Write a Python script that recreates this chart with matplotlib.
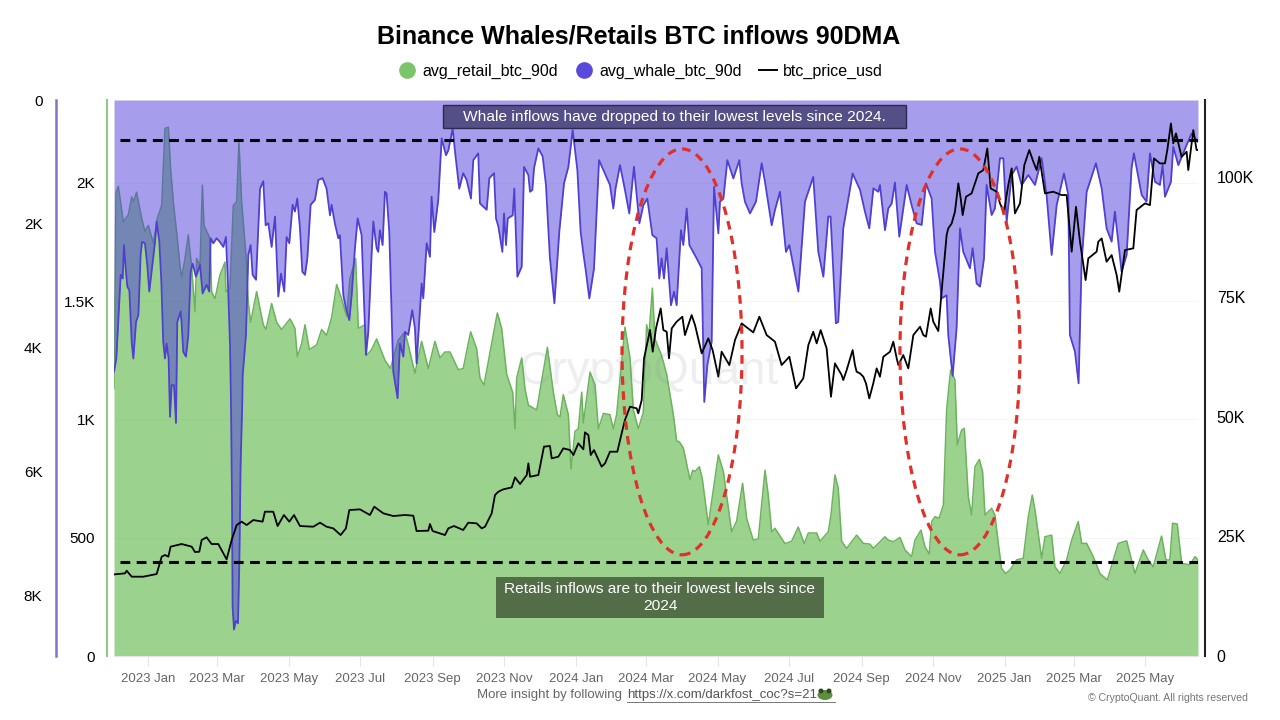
import matplotlib
matplotlib.use('Agg')
import matplotlib.pyplot as plt
import matplotlib.dates as mdates
from matplotlib.lines import Line2D
from matplotlib.patches import Ellipse, Rectangle
import numpy as np
import pandas as pd

plt.rcParams['font.family'] = ['Liberation Sans', 'DejaVu Sans']

# values, days counted from start_date
start_date = pd.Timestamp('2022-12-03')
total_days = 925

whale_days = [0, 2, 5.7, 7.4, 8.5, 10.2, 11.4, 13.1, 15.1, 16.5, 18.8, 20.8, 22.7, 23.9, 26.4, 28.4, 30.1, 32.4, 35, 36.4,
              38.7, 40.4, 42, 43.5, 44.9, 46.6, 47.8, 49.2, 51.2, 52.9, 54, 56.9, 57.7, 59.1, 61.4, 63.4, 65.4, 67.1, 69.9, 73.4,
              75.6, 79, 81.3, 82.5, 84.7, 87.6, 90.4, 93.3, 95.5, 97.5, 99, 99.8, 100.7, 101.2, 102.4, 104, 105.8, 107, 108, 109.5,
              109.8, 112.6, 114.6, 116.6, 118.3, 121.2, 123.1, 124.6, 127.4, 129.4, 131.7, 134.5, 137.4, 140.2, 142.5, 145.3, 147.3, 149.6, 152.4, 154.4,
              156.4, 158.7, 160.7, 163, 165, 167.8, 171.5, 174.3, 178, 181.4, 184.3, 185.7, 188.5, 191.4, 192.8, 195.7, 197.9, 200.8, 202.8, 205.6,
              207.9, 211.3, 215, 217, 219.8, 221.3, 224.1, 225.5, 226.9, 229.2, 231.2, 232.6, 234.9, 238.3, 242, 244, 246.9, 248.3, 251.1, 254.5,
              256.8, 258.2, 262.5, 263.9, 266.8, 269.6, 271, 273.3, 276.7, 279.6, 283.3, 285.3, 289, 291, 294.6, 298, 300.9, 304.6, 306.6, 310.8,
              312.3, 318, 320.3, 324.3, 326, 328, 331.4, 332.8, 334.5, 336, 340.2, 341.6, 344.2, 347.9, 349.9, 353.6, 355, 357, 358.4, 362.1,
              365.8, 368.6, 372, 375.8, 380, 384, 387.7, 391.4, 395.4, 398.2, 400.5, 402.5, 405.6, 409.6, 413.9, 417.6, 423.2, 426.1, 428, 431.8,
              436, 439.7, 443.7, 448.3, 451.7, 455.1, 459.4, 463, 465.3, 467.3, 469.3, 471.6, 475.3, 477.9, 480.1, 483.8, 485.8, 488.7, 491, 497.2,
              501.5, 503.7, 506.3, 510, 512, 515.7, 517.1, 520, 523.4, 528.5, 533.6, 535.6, 538.4, 542.7, 547.8, 552.7, 555.5, 561.2, 564, 568.3,
              573.4, 576.3, 584, 589.6, 596.7, 601, 605.3, 609.5, 611.5, 616, 618, 622.3, 625.2, 630.3, 636.6, 640.8, 644.5, 648, 652.2, 653.6,
              657.9, 660.7, 663.6, 666.4, 670.1, 673.5, 676.4, 680.6, 684.9, 689.2, 692.9, 697.7, 700.6, 704.8, 706.2, 710.5, 711.9, 715.6, 719, 721.9,
              724.7, 730.4, 732.7, 736.1, 739, 742.4, 744.6, 748.9, 751.7, 756, 758.9, 761.7, 766, 770.2, 774.5, 780.2, 785.9, 791.6, 795.8, 800.1,
              804.4, 810.6, 814.3, 815.7, 820, 823.1, 825.7, 830, 837.9, 842.8, 847, 851.3, 854.1, 859.8, 864.1, 868.3, 870.3, 876.9, 881.1, 884,
              888.3, 892.5, 894.8, 896.8, 901.9, 903.9, 908.2, 915.3, 919.5, 925]
whale_btc = [4380, 4170, 2820, 2880, 2340, 2770, 3010, 3070, 3900, 4170, 3580, 3470, 2500, 2290, 2310, 2660, 3090, 2720, 2290, 1960,
             2290, 2930, 3900, 4170, 3930, 4170, 5110, 4600, 4600, 5210, 3580, 3410, 3600, 4060, 4140, 3790, 2770, 2640, 2850, 2660,
             3120, 2980, 3090, 2230, 2310, 2230, 2290, 2370, 2210, 3090, 3950, 4840, 6450, 8170, 8540, 8400, 8440, 7420, 5915, 4840,
             4440, 3790, 2500, 2340, 2820, 2900, 2070, 1430, 1310, 2020, 1990, 2370, 1880, 3170, 2800, 3090, 2210, 2310, 1690, 1800,
             1590, 2070, 2770, 2820, 2550, 1690, 1610, 1290, 1260, 1430, 1860, 1690, 1990, 2230, 2180, 3150, 3360, 3550, 3150, 2390,
             1910, 2180, 4110, 3740, 2500, 1960, 2390, 2450, 2100, 2340, 1480, 1510, 2130, 4380, 4810, 3930, 4140, 3740, 3790, 3390,
             3680, 4250, 2960, 3200, 2310, 2530, 1560, 2130, 1610, 620, 890, 810, 460, 830, 1430, 1180, 1290, 1590, 970, 860,
             1670, 1770, 1260, 1180, 1910, 2040, 2450, 1830, 2340, 1910, 1860, 1430, 2850, 2690, 1080, 1210, 1480, 1450, 1100, 780,
             910, 1370, 2550, 3280, 2120, 1345, 1080, 485, 1130, 2125, 2475, 2740, 3200, 2716, 970, 1130, 1370, 1750, 1425, 1050,
             1450, 1830, 1075, 1990, 1695, 1590, 2180, 2230, 2880, 2555, 2880, 2390, 3310, 3090, 3310, 2100, 2340, 1750, 2340, 2555,
             2715, 4870, 4275, 3900, 1400, 2150, 1640, 1590, 970, 1265, 970, 1345, 1640, 1830, 1640, 1020, 1320, 2020, 1775, 1480,
             2450, 2340, 3090, 1640, 1240, 2450, 2850, 1880, 1880, 3600, 3580, 2070, 1750, 1185, 1450, 1800, 2070, 1425, 1480, 1370,
             2100, 1750, 1670, 1330, 2205, 1750, 1370, 1695, 1990, 2015, 1345, 1590, 2450, 2930, 3200, 3150, 3790, 4450, 3680, 2070,
             2450, 2715, 2390, 2960, 3010, 2555, 1370, 1855, 1750, 940, 940, 1965, 1210, 1075, 1370, 1210, 1370, 940, 1530, 2500,
             1695, 1185, 1530, 3790, 4060, 4570, 2610, 1480, 1020, 1425, 2070, 2285, 1800, 2770, 2500, 1100, 860, 1530, 1640, 860,
             1320, 1370, 1050, 1560, 1320, 755, 1050, 725, 540, 675]

retail_days = [0, 1.7, 3.7, 8, 12.2, 15.1, 16.5, 19.3, 23.6, 26.4, 29.3, 33.6, 37, 40.7, 43.5, 46.4, 48.3, 50.6, 54, 56.3,
               57.7, 60.6, 63.4, 66.3, 69.1, 70.5, 73.4, 75.4, 76.8, 81.9, 83.3, 86.2, 90.4, 94.7, 95.5, 99, 101.8, 104.7, 106.6, 108.9,
               112.6, 114.6, 116.6, 121.7, 127.4, 129.7, 134.5, 138.8, 143, 150.2, 154.4, 156.4, 160.1, 163, 166.7, 172.9, 177.2, 181.4, 185.7, 190,
               194.2, 198.5, 201.3, 206.2, 208.5, 214.2, 215.6, 219.8, 224.1, 231.2, 236, 238.3, 242.6, 248.3, 251.1, 256.8, 262.5, 268.2, 273.9, 278.1,
               282.4, 286.7, 293.8, 298, 304.3, 309.4, 312.3, 315.7, 320.9, 327.1, 330.8, 335.1, 340.2, 342.2, 343.6, 347.9, 350.7, 353.6, 360.7, 369.8,
               374.9, 378.3, 380.6, 383.4, 387.7, 390, 393.4, 396.2, 399.1, 400.5, 406.2, 410.5, 413.3, 417.6, 423.2, 426.1, 428.9, 436, 440.3, 443.2,
               447.4, 451.7, 454.5, 456.5, 459.4, 461.6, 467.3, 471.6, 477.3, 480.1, 482.4, 485.8, 491.5, 493.8, 495.8, 499.5, 502, 507.1, 515.7, 520,
               527, 531.3, 536.4, 539.9, 545.5, 549.8, 555.5, 558.3, 561.2, 564, 572.6, 578.2, 583.9, 589, 592.5, 599.6, 602.4, 609.5, 611.8, 615.2,
               618, 620.9, 625.2, 633.7, 639.4, 645.1, 648, 657.9, 660.7, 665, 670.7, 675, 680.6, 683.5, 688.6, 692, 695.7, 697.7, 700.6, 704,
               707.7, 710.5, 713.9, 717.6, 719.6, 723.3, 725.6, 729, 731.8, 734.7, 738.4, 741.2, 743.2, 748.9, 751.7, 754.6, 757.4, 760.8, 764.5, 770.2,
               775.9, 780.2, 783.6, 785.9, 791.6, 794.4, 800.1, 802.9, 807.2, 812.9, 817.2, 822.8, 825.7, 830, 835.6, 841.3, 847.6, 852.7, 857, 864.1,
               871.2, 878.3, 882.6, 886.8, 893.9, 897.6, 901, 903.3, 907.3, 911, 918.1, 922.4, 925]
retail_btc = [1130, 1960, 1985, 1835, 1865, 1940, 1920, 1960, 1850, 1795, 1820, 1745, 1850, 1905, 2230, 2235, 2060, 1920, 1765, 1650,
              1600, 1680, 1780, 1640, 1455, 1680, 1650, 1990, 1820, 1765, 1540, 1510, 1610, 1665, 1540, 1555, 1905, 1920, 2175, 1920,
              1695, 1495, 1410, 1540, 1400, 1380, 1490, 1410, 1380, 1425, 1385, 1265, 1320, 1400, 1295, 1315, 1380, 1355, 1430, 1570,
              1510, 1435, 1595, 1680, 1385, 1400, 1270, 1295, 1340, 1250, 1215, 1260, 1335, 1370, 1315, 1195, 1330, 1215, 1330, 1260,
              1285, 1285, 1210, 1215, 1370, 1300, 1175, 1145, 1285, 1450, 1385, 1190, 1115, 960, 1175, 1260, 1130, 1060, 1040, 1305,
              1115, 1020, 1010, 1105, 1020, 790, 950, 960, 1115, 985, 1200, 1145, 960, 1025, 1020, 960, 1020, 1390, 1260, 1040,
              960, 1030, 1400, 1355, 1555, 1340, 1270, 1190, 1020, 910, 905, 880, 745, 785, 780, 800, 750, 555, 850, 780,
              525, 570, 730, 580, 490, 495, 785, 680, 525, 540, 475, 485, 545, 475, 520, 520, 485, 525, 595, 765,
              710, 485, 455, 511, 476, 473, 455, 504, 490, 483, 501, 448, 420, 490, 532, 462, 431, 568, 589, 582,
              638, 1040, 1209, 1167, 892, 955, 962, 673, 596, 800, 831, 779, 596, 624, 596, 476, 370, 349, 363, 406,
              413, 589, 680, 617, 413, 504, 511, 377, 349, 406, 490, 568, 476, 476, 420, 349, 321, 406, 476, 487,
              349, 448, 406, 377, 507, 406, 406, 561, 558, 392, 385, 420, 406]

price_days = [0.6, 9.4, 10.8, 15.1, 25, 36.4, 40.7, 43.5, 46.4, 48.3, 57.7, 66.3, 69.1, 72.8, 74.8, 79, 83.3, 89, 96.1, 100.4,
              104.7, 108.9, 113.2, 118.9, 126.8, 128.8, 135.9, 139.6, 145, 149.6, 153.6, 158.7, 170.1, 175.8, 181.4, 187.1, 193.4, 197.9, 200.8, 209.9,
              218.4, 222.1, 229.8, 238.3, 248.3, 255.4, 258.2, 268.2, 269.6, 271.9, 282.4, 285.3, 290.1, 298, 302.3, 309.4, 312.3, 313.8, 316.6, 322.3,
              325.1, 328, 332.2, 339.4, 342.2, 346.5, 352.2, 353.6, 355, 362.1, 366.9, 372, 373.5, 379.2, 383.4, 389.1, 392, 396.2, 400.5, 401.9,
              404.8, 406.8, 409.6, 416.1, 419, 423.2, 429.5, 433.2, 436, 440.3, 446, 447.4, 450.3, 452.3, 457.4, 459.7, 462.5, 466.5, 468.8, 471.6,
              473.6, 475.9, 480.1, 485, 487.2, 492.9, 495.8, 501.5, 507.1, 510.8, 515.7, 518.5, 525.1, 529.9, 535.6, 545.5, 550.7, 556.9, 564, 569.7,
              576.3, 582, 588.2, 592.5, 596.7, 599.6, 603, 608.1, 611.8, 615.2, 620.9, 622.3, 625.2, 630.3, 632.3, 633.7, 636.6, 639.4, 641.7, 644.5,
              647.9, 650.8, 653.6, 656.5, 662.2, 665, 667.9, 669.3, 673.5, 677.8, 682.1, 687.8, 690.6, 692.9, 696.9, 699.1, 703.4, 706.2, 710.5, 711.9,
              714.8, 717.6, 720.5, 722.5, 724.2, 727, 731.8, 734.7, 737.5, 741.8, 745.2, 748.1, 753.2, 756, 759.4, 763.1, 766, 768.8, 773.1, 776.8,
              781, 784.5, 787.3, 789.6, 794.4, 801.5, 808.6, 812.9, 817.2, 820.9, 824.3, 829.1, 831.4, 838.5, 839.9, 842.8, 847, 851.3, 855.6, 857.8,
              862.7, 869.8, 872.6, 879.7, 884, 887.4, 892.5, 896.8, 898.8, 901.9, 903.9, 906.2, 911, 915.3, 916.7, 921, 923.8, 925]
btc_price = [17050, 17260, 17815, 16560, 16560, 17120, 20740, 21090, 20740, 22830, 23380, 22830, 21710, 21780, 24220, 24780, 23380, 23380, 20180, 24220,
             27350, 28050, 27350, 28390, 28050, 30130, 30130, 27140, 29440, 28050, 29440, 27140, 27000, 27840, 27000, 26650, 25260, 26650, 30480, 30620,
             29440, 31180, 29790, 29230, 29440, 29300, 26100, 26170, 27560, 26100, 25260, 26650, 27140, 26310, 27840, 27700, 27000, 26650, 27000, 29790,
             33610, 34310, 34800, 35210, 37300, 35910, 37790, 40230, 37440, 37790, 43710, 43850, 41270, 41620, 43360, 43010, 41970, 44400, 43150, 46700,
             46140, 41970, 43010, 39530, 40230, 42660, 42660, 46490, 49270, 52060, 51710, 50670, 53450, 62150, 68060, 63540, 68410, 72580, 68060, 67710,
             62150, 68410, 69800, 70850, 67020, 71190, 69110, 63190, 66320, 63890, 58320, 63540, 60750, 65970, 69450, 67570, 70850, 67020, 65630, 60750,
             62490, 55880, 57970, 64930, 67710, 65280, 68060, 64230, 54140, 61100, 58670, 57620, 59710, 63890, 60750, 59360, 59010, 58320, 56930, 53790,
             56930, 60060, 58320, 62490, 63540, 65630, 62150, 60750, 62840, 60060, 67020, 68760, 67020, 66670, 72580, 69800, 67860, 76070, 87900, 89290,
             90330, 92770, 98690, 95550, 92070, 95900, 96600, 98690, 100770, 101470, 105990, 97640, 96950, 94510, 92770, 98340, 101820, 92420, 94510, 102510,
             105650, 103210, 101470, 104250, 96600, 96950, 96250, 96250, 84420, 93810, 86510, 78500, 83030, 84420, 86510, 87200, 82330, 83720, 79540, 76070,
             84770, 85120, 93120, 94510, 94160, 103910, 102860, 102860, 105650, 111210, 107040, 109130, 104250, 105300, 101470, 109820, 105650, 105650]

retail_ticks = [0, 500, 1000, 1500, 2000]
retail_labels = ['0', '500', '1K', '1.5K', '2K']
whale_ticks = [0, 2000, 4000, 6000, 8000]
whale_labels = ['0', '2K', '4K', '6K', '8K']
price_ticks = [0, 25000, 50000, 75000, 100000]
price_labels = ['0', '25K', '50K', '75K', '100K']

GREEN = '#39a91f'
GREEN_LINE = '#6db35e'
PURPLE = '#4f3ddb'
W, H = 1280, 720


def to_dates(days):
    return start_date + pd.to_timedelta(np.array(days), unit='D')


fig = plt.figure(figsize=(12.8, 7.2), dpi=100, facecolor='white')
ax = fig.add_axes([114 / W, (H - 656) / H, 1084 / W, 556 / H])
ax_whale = ax.twinx()
ax_price = ax.twinx()

# retail area, bottom up
ax.fill_between(to_dates(retail_days), 0, retail_btc, color=GREEN, alpha=0.5, lw=0)
ax.plot(to_dates(retail_days), retail_btc, color=GREEN_LINE, lw=1.1)
ax.set_ylim(0, 2350)
ax.set_xlim(start_date, start_date + pd.Timedelta(days=total_days))
ax.set_yticks(retail_ticks)
ax.set_yticklabels(retail_labels)
ax.grid(axis='y', color='#f5f5f5', lw=0.7)
ax.set_axisbelow(True)

# whale area, inverted axis hanging from the top
ax_whale.fill_between(to_dates(whale_days), 0, whale_btc, color=PURPLE, alpha=0.5, lw=0)
ax_whale.plot(to_dates(whale_days), whale_btc, color='#5040d0', lw=1.3)
ax_whale.set_ylim(8968, 0)
ax_whale.set_yticks(whale_ticks)
ax_whale.set_yticklabels(whale_labels)

ax_price.plot(to_dates(price_days), btc_price, color='black', lw=1.3)
ax_price.set_ylim(0, 116100)
ax_price.set_yticks(price_ticks)
ax_price.set_yticklabels(price_labels)

ax.xaxis.set_major_locator(mdates.MonthLocator(bymonth=[1, 3, 5, 7, 9, 11]))
ax.xaxis.set_major_formatter(mdates.DateFormatter('%Y %b'))
ax.tick_params(axis='x', length=7, width=0.8, color='#e4e4e4', labelcolor='#666666', labelsize=9.5, pad=5)

for a in (ax, ax_whale, ax_price):
    for side in ('top', 'right', 'left', 'bottom'):
        a.spines[side].set_visible(False)
ax.spines['bottom'].set_visible(True)
ax.spines['bottom'].set_color('#e4e4e4')

ax.yaxis.set_ticks_position('left')
ax.spines['left'].set_visible(True)
ax.spines['left'].set_position(('outward', 5))
ax.spines['left'].set_color('#8fc783')
ax.spines['left'].set_linewidth(1.5)
ax.tick_params(axis='y', length=0, pad=8.5, labelsize=11, labelcolor='black')

ax_whale.yaxis.set_ticks_position('left')
ax_whale.spines['left'].set_visible(True)
ax_whale.spines['left'].set_position(('outward', 42))
ax_whale.spines['left'].set_color('#7f77c4')
ax_whale.spines['left'].set_linewidth(1.8)
ax_whale.tick_params(axis='y', length=0, pad=9.5, labelsize=11, labelcolor='black')

ax_price.yaxis.set_ticks_position('right')
ax_price.spines['right'].set_visible(True)
ax_price.spines['right'].set_position(('outward', 5))
ax_price.spines['right'].set_color('#222222')
ax_price.spines['right'].set_linewidth(1.5)
ax_price.tick_params(axis='y', length=0, pad=8.5, labelsize=11.5, labelcolor='black')

# annotations, all in axes fractions
ax_price.text(0.4935, 0.510, 'CryptoQuant', transform=ax_price.transAxes, ha='center', va='center',
              fontsize=33, color='#8888a0', alpha=0.14)

for level in (0.928, 0.169):
    ax_price.plot([0.0055, 1], [level, level], transform=ax_price.transAxes, color='black',
                  lw=2.2, linestyle=(0, (3.2, 2.1)), zorder=5)

for cx in (0.524, 0.7804):
    ax_price.add_patch(Ellipse((cx, 0.547), 0.1107, 0.730, transform=ax_price.transAxes, fill=False,
                               edgecolor='#e0302a', lw=2.3, linestyle=(0, (2.7, 2)), zorder=6))

ax_price.add_patch(Rectangle(((443 - 114) / 1084, (656 - 128) / 556), 463 / 1084, 23 / 556, transform=ax_price.transAxes,
                             fc='#544f86', ec='#2c2a50', lw=1, zorder=7))
ax_price.text(0.517, 0.9703, 'Whale inflows have dropped to their lowest levels since 2024.',
              transform=ax_price.transAxes, ha='center', va='center', color='white', fontsize=11.15, zorder=8)
ax_price.add_patch(Rectangle(((496 - 114) / 1084, (656 - 618) / 556), 328 / 1084, 41 / 556, transform=ax_price.transAxes,
                             fc='#536d49', ec='none', zorder=7))
ax_price.text((660 - 114) / 1084, (656 - 597.5) / 556, 'Retails inflows are to their lowest levels since\n2024',
              transform=ax_price.transAxes, ha='center', va='center', color='white', fontsize=11.15,
              linespacing=1.3, zorder=8)

fig.text(639 / W, 1 - 36 / H, 'Binance Whales/Retails BTC inflows 90DMA', ha='center', va='center',
         fontsize=18, fontweight='bold', color='black')

handles = [Line2D([], [], marker='o', ls='', color='#7cc46a', markersize=11),
           Line2D([], [], marker='o', ls='', color='#5a48dc', markersize=11),
           Line2D([], [], color='black', lw=1.4)]
fig.legend(handles, ['avg_retail_btc_90d', 'avg_whale_btc_90d', 'btc_price_usd'], ncol=3, loc='center',
           bbox_to_anchor=(640.5 / W, 1 - 71 / H), frameon=False, fontsize=11.5, handlelength=1.1,
           handletextpad=0.4, columnspacing=1.1)

fig.text(477 / W, 1 - 695 / H, 'More insight by following', ha='left', va='center', fontsize=9.5, color='#666666')
fig.text(627 / W, 1 - 695 / H, 'https://x.com/darkfost_coc?s=21', ha='left', va='center', fontsize=9.5, color='#555555')
fig.add_artist(Line2D([627 / W, 835 / W], [1 - 702 / H, 1 - 702 / H], color='#777777', lw=0.7))
# small frog instead of the emoji
fig.add_artist(Ellipse((825 / W, 1 - 695 / H), 15 / W, 10 / H, fc='#5d8f3f', ec='none'))
for ex in (821, 829):
    fig.add_artist(Ellipse((ex / W, 1 - 691 / H), 5 / W, 5 / H, fc='#2d4a22', ec='none'))
fig.text(1248 / W, 1 - 698 / H, '© CryptoQuant. All rights reserved', ha='right', va='center', fontsize=7.6, color='#777777')

plt.savefig('out.png', dpi=100, facecolor='white')
plt.close()
